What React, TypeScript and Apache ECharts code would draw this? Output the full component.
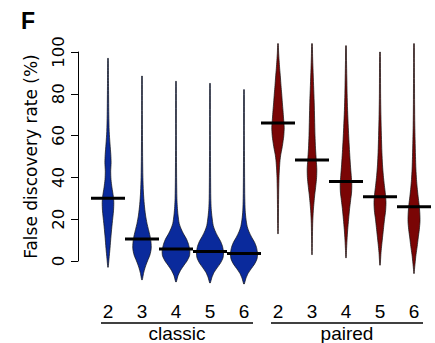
import { useEffect, useRef } from "react";
import * as echarts from "echarts";

// ---- data ----
const groups = ["classic", "paired"];
const sizes = ["2", "3", "4", "5", "6"];
const yTicks = [0, 20, 40, 60, 80, 100];
const medians = [30, 10.5, 5.7, 4.5, 3.6, 66, 48.3, 38, 30.8, 26];

// density profiles: [value (%), relative density]
const classic2 = [[97, 0.3], [85, 0.5], [70, 0.8], [62, 1.2], [56, 2], [51, 2.8], [47, 3.1], [43, 2.7], [39, 3], [35, 4], [31, 5.3], [28, 5.8], [24, 5.5], [18, 4.2], [12, 3], [6, 2], [1, 1], [-3, 0.2]];
const classic3 = [[88.5, 0.3], [70, 0.4], [50, 0.6], [40, 0.9], [33, 1.4], [27, 2.3], [22, 3.5], [18, 5], [15, 6.5], [12, 8], [9, 9], [6, 9.2], [3, 8], [0, 5.5], [-3, 3.2], [-6, 1.5], [-9, 0.3]];
const classic4 = [[86, 0.3], [60, 0.4], [40, 0.6], [30, 0.9], [26, 1.3], [22, 2], [18, 3.2], [15.5, 5], [13, 7.5], [10.5, 10.5], [8, 12.5], [5, 13.8], [2.5, 13.5], [0, 11], [-2, 8], [-4.5, 4.5], [-7, 2], [-10, 0.3]];
const classic5 = [[85, 0.3], [60, 0.4], [40, 0.6], [30, 0.8], [25, 1.2], [21, 2], [17, 3.2], [14.5, 5], [12, 7.5], [9.5, 10.5], [7, 12.5], [4, 13.5], [1.5, 13], [-1, 10.5], [-3, 7.5], [-5.5, 4], [-8, 1.8], [-10.5, 0.3]];
const classic6 = [[82, 0.3], [60, 0.4], [40, 0.6], [30, 0.8], [24, 1.2], [20, 2], [16.5, 3.2], [14, 5], [11.5, 7.5], [9, 10.5], [6.5, 12.5], [3.5, 13.5], [1, 13], [-1.5, 10.5], [-3.5, 7.5], [-6, 4], [-8.5, 1.8], [-11, 0.3]];
const paired2 = [[104, 0.3], [100, 0.6], [96, 1.1], [92, 1.7], [88, 2.4], [84, 3], [80, 3.7], [76, 4.3], [72, 5], [68, 5.6], [64, 6.2], [60, 5.8], [57, 5], [54, 4], [51, 2.8], [48, 2], [44, 1.4], [40, 1], [34, 0.7], [25, 0.5], [18, 0.4], [13, 0.2]];
const paired3 = [[104, 0.3], [98, 0.6], [92, 1], [84, 1.6], [76, 2.2], [68, 2.6], [60, 3], [54, 3.5], [48, 4.3], [44, 4.8], [40, 4.6], [36, 3.8], [32, 2.8], [28, 2], [24, 1.3], [18, 0.7], [10, 0.4], [3, 0.2]];
const paired4 = [[103, 0.3], [96, 0.5], [88, 0.8], [80, 1.1], [72, 1.6], [64, 2.3], [58, 2.9], [52, 3.6], [46, 4.4], [41, 5.2], [37, 5.8], [33, 5.6], [29, 4.6], [25, 3.6], [20, 2.6], [15, 1.7], [10, 1], [5, 0.5], [1.5, 0.2]];
const paired5 = [[100, 0.3], [90, 0.5], [80, 0.6], [70, 0.9], [60, 1.4], [52, 1.9], [46, 2.5], [41, 3.3], [36, 4.4], [32, 5.4], [28, 6], [24, 5.6], [20, 4.5], [16, 3.6], [12, 2.7], [8, 1.8], [4, 1], [0, 0.5], [-2, 0.2]];
const paired6 = [[104, 0.3], [95, 0.4], [85, 0.5], [75, 0.6], [65, 0.8], [58, 1.1], [50, 1.5], [44, 1.9], [39, 2.5], [35, 3.2], [31, 4.1], [27, 5.1], [23, 5.8], [19, 6], [15, 5.3], [11, 4.2], [7, 3.2], [3, 2], [-1, 1.1], [-4, 0.5], [-6, 0.2]];

const profiles = [classic2, classic3, classic4, classic5, classic6, paired2, paired3, paired4, paired5, paired6];
const groupColors = ["#0a2a9c", "#7a0505"];

const FONT = "Liberation Sans, Arial, Helvetica, sans-serif";
const VFONT = "DejaVu Sans, Liberation Sans, sans-serif";

export default function App() {
  const ref = useRef<HTMLDivElement>(null);

  useEffect(() => {
    document.body.style.margin = "0";
    const chart = echarts.init(ref.current!, null, { renderer: "svg" });
    const categories = groups.flatMap((g) => sizes.map((s) => g + " " + s));

    chart.setOption({
      animation: false,
      textStyle: { fontFamily: FONT },
      title: {
        text: "F",
        left: 16,
        top: 4,
        textStyle: { fontSize: 23, fontWeight: "bold", color: "#000", fontFamily: FONT },
      },
      grid: { left: 91, right: 4, top: 52, bottom: 82 },
      xAxis: {
        type: "category",
        data: categories,
        boundaryGap: true,
        axisLine: { show: false },
        axisTick: { show: false },
        splitLine: { show: false },
        axisLabel: {
          formatter: (v: string) => v.split(" ")[1],
          fontSize: 19,
          color: "#000",
          margin: 41,
          fontFamily: FONT,
        },
      },
      yAxis: {
        type: "value",
        min: yTicks[0],
        max: yTicks[yTicks.length - 1],
        interval: 20,
        offset: 13,
        name: "False discovery rate (%)",
        nameLocation: "middle",
        nameRotate: 90,
        nameGap: 39,
        nameTextStyle: { fontSize: 17, color: "#000", fontFamily: VFONT },
        axisLine: { show: true, lineStyle: { color: "#000", width: 1 } },
        axisTick: { show: true, length: 7, lineStyle: { color: "#000", width: 1 } },
        splitLine: { show: false },
        axisLabel: { rotate: 90, fontSize: 16.5, color: "#000", margin: 11, fontFamily: VFONT },
      },
      series: [
        {
          type: "custom",
          clip: false,
          data: medians.map((m, i) => [i, m]),
          encode: { x: 0, y: 1 },
          renderItem: (params: any, api: any) => {
            const i = params.dataIndex;
            const prof = profiles[i];
            const bw = api.size([1, 0])[0];
            const scale = bw / 34;
            const cx = api.coord([i, 0])[0];
            const right = prof.map(([v, d]) => [cx + d * scale, api.coord([i, v])[1]]);
            const left = prof
              .slice()
              .reverse()
              .map(([v, d]) => [cx - d * scale, api.coord([i, v])[1]]);
            const my = api.coord([i, medians[i]])[1];
            const color = groupColors[Math.floor(i / sizes.length)];
            return {
              type: "group",
              children: [
                {
                  type: "polygon",
                  shape: { points: [...right, ...left], smooth: 0.25 },
                  style: { fill: color, stroke: "#111", lineWidth: 0.7 },
                },
                {
                  type: "line",
                  shape: { x1: cx - bw / 2, y1: my, x2: cx + bw / 2, y2: my },
                  style: { stroke: "#000", lineWidth: 3 },
                },
              ],
            };
          },
        },
      ],
    });

    // group brackets under the category labels
    const graphics: any[] = [];
    groups.forEach((g, gi) => {
      const first = gi * sizes.length;
      const last = first + sizes.length - 1;
      const p0 = chart.convertToPixel({ gridIndex: 0 }, [first, 0]) as number[];
      const p1 = chart.convertToPixel({ gridIndex: 0 }, [last, 0]) as number[];
      const x1 = p0[0] - 7;
      const x2 = p1[0] + 9;
      const yBase = p0[1];
      graphics.push({
        type: "line",
        shape: { x1, y1: yBase + 62, x2, y2: yBase + 62 },
        style: { stroke: "#000", lineWidth: 1.3 },
      });
      graphics.push({
        type: "text",
        x: (x1 + x2) / 2,
        y: yBase + 72,
        style: {
          text: g,
          fontSize: 19,
          fill: "#000",
          fontFamily: FONT,
          textAlign: "center",
          textVerticalAlign: "middle",
        },
      });
    });
    chart.setOption({ graphic: graphics });

    return () => chart.dispose();
  }, []);

  return <div ref={ref} style={{ width: 435, height: 343 }} />;
}
